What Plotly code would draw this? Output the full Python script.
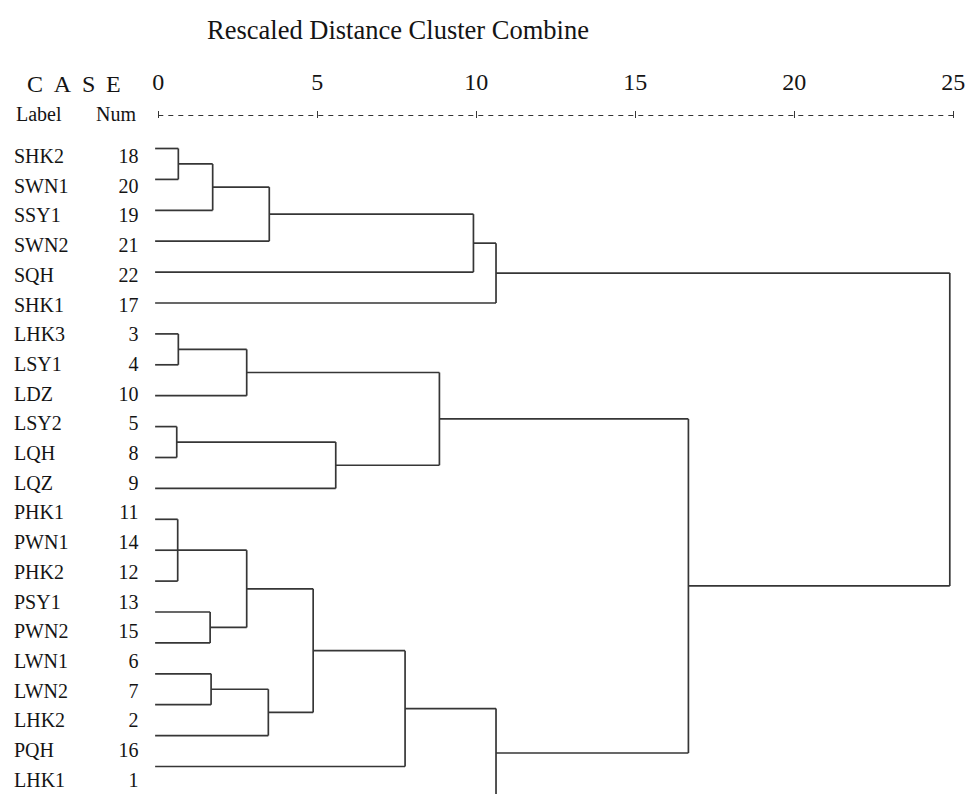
import plotly.graph_objects as go

# ---------------- data ----------------
case_labels = ["SHK2", "SWN1", "SSY1", "SWN2", "SQH", "SHK1",
               "LHK3", "LSY1", "LDZ", "LSY2", "LQH", "LQZ",
               "PHK1", "PWN1", "PHK2", "PSY1", "PWN2",
               "LWN1", "LWN2", "LHK2", "PQH", "LHK1"]
case_nums = [18, 20, 19, 21, 22, 17, 3, 4, 10, 5, 8, 9,
             11, 14, 12, 13, 15, 6, 7, 2, 16, 1]

# merges: children (leaf row index 0..21, or merged node id 22+), rescaled distance
merge_children = [
    [0, 1],        # 22
    [22, 2],       # 23
    [23, 3],       # 24
    [24, 4],       # 25
    [25, 5],       # 26
    [6, 7],        # 27
    [27, 8],       # 28
    [9, 10],       # 29
    [29, 11],      # 30
    [28, 30],      # 31
    [12, 13, 14],  # 32
    [15, 16],      # 33
    [32, 33],      # 34
    [17, 18],      # 35
    [35, 19],      # 36
    [34, 36],      # 37
    [37, 20],      # 38
    [38, 21],      # 39
    [31, 39],      # 40
    [26, 40],      # 41
]
merge_heights = [0.63, 1.71, 3.49, 9.91, 10.62,
                 0.63, 2.78, 0.58, 5.58, 8.84,
                 0.61, 1.63, 2.78, 1.66, 3.46,
                 4.87, 7.76, 10.62, 16.67, 24.89]

tick_values = [0, 5, 10, 15, 20, 25]

# ---------------- layout geometry ----------------
W, H = 967, 794
TOP = 119                 # top of plot area (px)
X0PX, PPU = 158.3, 31.8   # pixel of distance 0, pixels per unit
LEAF_START = -0.1
FONT = "Liberation Serif"
LINE_COL = "#363636"
TXT_COL = "#141414"

def px_to_x(p):
    return (p - X0PX) / PPU

def py_to_paper(p):
    return (H - p) / (H - TOP)

# text rows and tree rows (pixel position of row 0 and spacing)
TXT_Y0, TXT_DY = 158.0, 29.7
TREE_Y0, TREE_DY = 148.5, 30.9
txt_range = [(H - TXT_Y0) / TXT_DY, (TOP - TXT_Y0) / TXT_DY]
tree_range = [(H - TREE_Y0) / TREE_DY, (TOP - TREE_Y0) / TREE_DY]

# ---------------- build dendrogram segments ----------------
n_leaf = len(case_labels)
node_x = {i: LEAF_START for i in range(n_leaf)}
node_y = {i: float(i) for i in range(n_leaf)}
xs, ys = [], []
for k, (children, h) in enumerate(zip(merge_children, merge_heights)):
    nid = n_leaf + k
    cy = [node_y[c] for c in children]
    for c in children:
        xs += [node_x[c], h, None]
        ys += [node_y[c], node_y[c], None]
    xs += [h, h, None]
    ys += [min(cy), max(cy), None]
    node_x[nid] = h
    node_y[nid] = (min(cy) + max(cy)) / 2.0

fig = go.Figure()
fig.add_trace(go.Scatter(
    x=xs, y=ys, mode="lines", yaxis="y2",
    line=dict(color=LINE_COL, width=1.7), hoverinfo="skip"))

rows = list(range(n_leaf))
fig.add_trace(go.Scatter(
    x=[px_to_x(14)] * n_leaf, y=rows, mode="text", text=case_labels,
    textposition="middle right", cliponaxis=False,
    textfont=dict(family=FONT, size=20, color=TXT_COL), hoverinfo="skip"))
fig.add_trace(go.Scatter(
    x=[px_to_x(138.5)] * n_leaf, y=rows, mode="text", text=[str(n) for n in case_nums],
    textposition="middle left", cliponaxis=False,
    textfont=dict(family=FONT, size=20, color=TXT_COL), hoverinfo="skip"))

# dashed scale line
fig.add_shape(type="line", xref="x", yref="paper",
              x0=tick_values[0], x1=tick_values[-1],
              y0=py_to_paper(115.5), y1=py_to_paper(115.5),
              line=dict(color=LINE_COL, width=1, dash="5px,5px"))

annotations = [
    dict(text="Rescaled Distance Cluster Combine", x=398 / W, y=py_to_paper(30),
         xanchor="center", yanchor="middle", font=dict(size=26.5)),
    dict(text="C\u00a0\u2009A\u00a0\u2009S\u00a0\u2009E", x=74 / W, y=py_to_paper(84),
         xanchor="center", yanchor="middle", font=dict(size=24)),
    dict(text="Label", x=14 / W, y=py_to_paper(114),
         xanchor="left", yanchor="middle", font=dict(size=20)),
    dict(text="Num", x=138 / W, y=py_to_paper(114),
         xanchor="right", yanchor="middle", font=dict(size=20)),
]
for a in annotations:
    a.update(xref="paper", yref="paper", showarrow=False)
    a["font"].update(family=FONT, color=TXT_COL)

fig.update_layout(
    width=W, height=H,
    margin=dict(l=0, r=0, t=TOP, b=0, pad=0),
    paper_bgcolor="white", plot_bgcolor="white",
    showlegend=False,
    annotations=annotations,
    xaxis=dict(range=[px_to_x(0), px_to_x(W)], side="top",
               tickvals=tick_values, ticktext=[str(v) for v in tick_values],
               ticks="outside", ticklen=7, tickwidth=1, tickcolor=LINE_COL,
               showgrid=False, zeroline=False, showline=False,
               ticklabelstandoff=11,
               tickfont=dict(family=FONT, size=24, color=TXT_COL)),
    yaxis=dict(range=txt_range, visible=False, fixedrange=True),
    yaxis2=dict(range=tree_range, overlaying="y", visible=False, fixedrange=True),
)

fig.write_html("out.html")
